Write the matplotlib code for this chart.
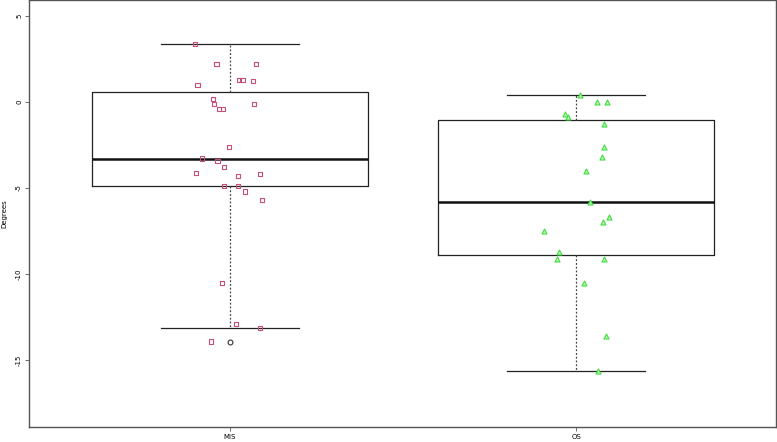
import matplotlib.pyplot as plt
import numpy as np

# valores (grados)
grupos = ["MIS", "OS"]
mis = [3.39, 2.21, 2.21, 1.30, 1.30, 1.20, 1.01, 0.19, -0.10, -0.10, -0.41, -0.41,
       -2.62, -3.29, -3.41, -3.80, -4.11, -4.20, -4.30, -4.90, -4.90, -5.21, -5.70,
       -10.52, -12.93, -13.12, -13.93]
mis_jitter = [-0.101, -0.039, 0.075, 0.027, 0.036, 0.066, -0.094, -0.050, -0.046, 0.069,
              -0.032, -0.020, -0.003, -0.080, -0.036, -0.017, -0.099, 0.086, 0.023,
              -0.018, 0.022, 0.043, 0.093, -0.023, 0.017, 0.086, -0.056]
os_ = [0.43, 0.0, 0.0, -0.68, -0.89, -1.26, -2.60, -3.20, -3.99, -5.81, -6.69, -7.00,
       -7.50, -8.70, -9.13, -9.13, -10.50, -13.60, -15.62]
os_jitter = [0.011, 0.061, 0.090, -0.031, -0.023, 0.080, 0.082, 0.075, 0.029, 0.040,
             0.096, 0.079, -0.092, -0.049, -0.054, 0.080, 0.022, 0.086, 0.063]

fig = plt.figure(figsize=(7.77, 4.42), dpi=100)
ax = fig.add_axes([29 / 777, 15 / 442, 747 / 777, 427 / 442])

ax.boxplot([mis, os_], positions=[1, 2], widths=0.8, whis=1.5,
           boxprops=dict(color="#222222", linewidth=0.9),
           medianprops=dict(color="#111111", linewidth=1.8),
           whiskerprops=dict(color="#444444", linewidth=0.9, linestyle=(0, (1.5, 1.5))),
           capprops=dict(color="#222222", linewidth=0.9),
           capwidths=0.4,
           flierprops=dict(marker="o", markerfacecolor="none", markeredgecolor="#333333",
                           markersize=3.5, markeredgewidth=0.8))

ax.scatter(1 + np.array(mis_jitter), mis, marker="s", s=9, facecolors="none",
           edgecolors="#C4507A", linewidths=0.8, zorder=3)
ax.scatter(2 + np.array(os_jitter), os_, marker="^", s=13, facecolors="#B8F5B0",
           edgecolors="#44DD44", linewidths=0.8, zorder=3)

ax.set_xlim(0.419, 2.578)
ax.set_ylim(-18.9, 5.93)
ax.set_xticks([1, 2])
ax.set_xticklabels(grupos, fontsize=5)
ax.set_yticks([-15, -10, -5, 0, 5])
ax.set_yticklabels(["-15", "-10", "-5", "0", "5"], fontsize=5, rotation=90, va="center")
ax.tick_params(length=3, width=0.6, color="#555555", pad=2)
ax.set_ylabel("Degrees", fontsize=5, labelpad=6)
for s in ax.spines.values():
    s.set_color("#555555")
    s.set_linewidth(1.0)

fig.savefig("out.png", dpi=100)
